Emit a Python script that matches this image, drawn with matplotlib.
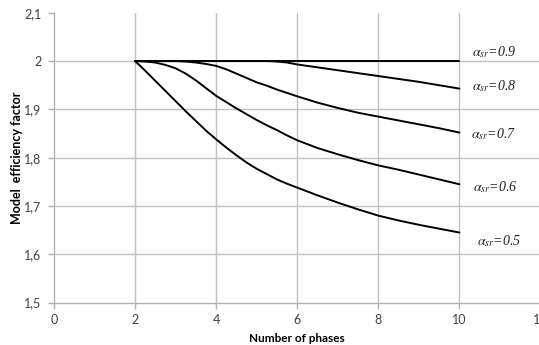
import matplotlib
matplotlib.use("Agg")
import matplotlib.pyplot as plt

plt.rcParams['font.family'] = ['Lato', 'DejaVu Sans']
plt.rcParams['mathtext.fontset'] = 'stix'

# Number of phases
phases = [2, 2.25, 2.5, 2.75, 3, 3.25, 3.5, 3.75, 4, 4.25, 4.5, 4.75, 5,
          5.25, 5.5, 5.75, 6, 6.5, 7, 7.5, 8, 8.5, 9, 9.5, 10]

# Model efficiency factor, one list per alpha_sr
eff_09 = [2.0] * 25
eff_08 = [2.0] * 14 + [1.999, 1.997, 1.993, 1.987, 1.981, 1.975, 1.969,
                       1.963, 1.957, 1.950, 1.943]
eff_07 = [2.0, 2.0, 2.0, 2.0, 2.0, 1.999, 1.997, 1.994, 1.990, 1.983, 1.974,
          1.965, 1.956, 1.949, 1.941, 1.934, 1.927, 1.914, 1.903, 1.893,
          1.885, 1.877, 1.869, 1.861, 1.852]
eff_06 = [2.0, 1.999, 1.997, 1.992, 1.985, 1.974, 1.960, 1.944, 1.928, 1.915,
          1.902, 1.890, 1.878, 1.867, 1.857, 1.846, 1.836, 1.820, 1.807,
          1.795, 1.784, 1.775, 1.765, 1.755, 1.745]
eff_05 = [2.0, 1.980, 1.959, 1.938, 1.917, 1.896, 1.876, 1.856, 1.838, 1.821,
          1.805, 1.790, 1.777, 1.766, 1.755, 1.746, 1.738, 1.722, 1.707,
          1.693, 1.680, 1.670, 1.661, 1.653, 1.645]

series = [eff_09, eff_08, eff_07, eff_06, eff_05]
labels = ["0.9", "0.8", "0.7", "0.6", "0.5"]
label_pos = [(10.31, 2.019), (10.31, 1.949), (10.28, 1.848),
             (10.34, 1.740), (10.43, 1.627)]

xticks = [0, 2, 4, 6, 8, 10, 12]
yticks = [1.5, 1.6, 1.7, 1.8, 1.9, 2.0, 2.1]
ytick_labels = ["1,5", "1,6", "1,7", "1,8", "1,9", "2", "2,1"]

fig = plt.figure(figsize=(5.39, 3.45), dpi=100)
ax = fig.add_axes([0.1002, 0.123, 0.9024, 0.84])

for ys in series:
    ax.plot(phases, ys, color='black', lw=1.4, solid_capstyle='round', zorder=3)

for lab, (lx, ly) in zip(labels, label_pos):
    ax.text(lx, ly, r"$\alpha_{sr}$=" + lab, fontsize=10, family='Liberation Serif',
            style='italic', va='center', ha='left', color='#222222')

ax.set_xlim(0, 12)
ax.set_ylim(1.5, 2.1)
ax.set_xticks(xticks)
ax.set_yticks(yticks)
ax.set_yticklabels(ytick_labels)

ax.grid(True, color='#c0c0c0', lw=1.0)
ax.get_ygridlines()[-1].set_visible(False)
ax.get_ygridlines()[0].set_visible(False)
ax.get_xgridlines()[0].set_visible(False)
ax.set_axisbelow(True)

for s in ['top', 'right']:
    ax.spines[s].set_visible(False)
for s in ['left', 'bottom']:
    ax.spines[s].set_color('#b0b0b0')
    ax.spines[s].set_linewidth(1.0)

ax.tick_params(axis='both', colors='#b0b0b0', length=4, width=1.0,
               labelcolor='#404040', labelsize=9)
ax.tick_params(axis='y', pad=5)
ax.tick_params(axis='x', pad=4)

ax.set_xlabel("Number of phases", fontsize=8.5, fontweight='bold', labelpad=5)
ax.set_ylabel("Model  efficiency factor", fontsize=9, fontweight='bold')
ax.yaxis.set_label_coords(-0.064, 0.5)

fig.savefig("out.png", dpi=100)
plt.close(fig)
